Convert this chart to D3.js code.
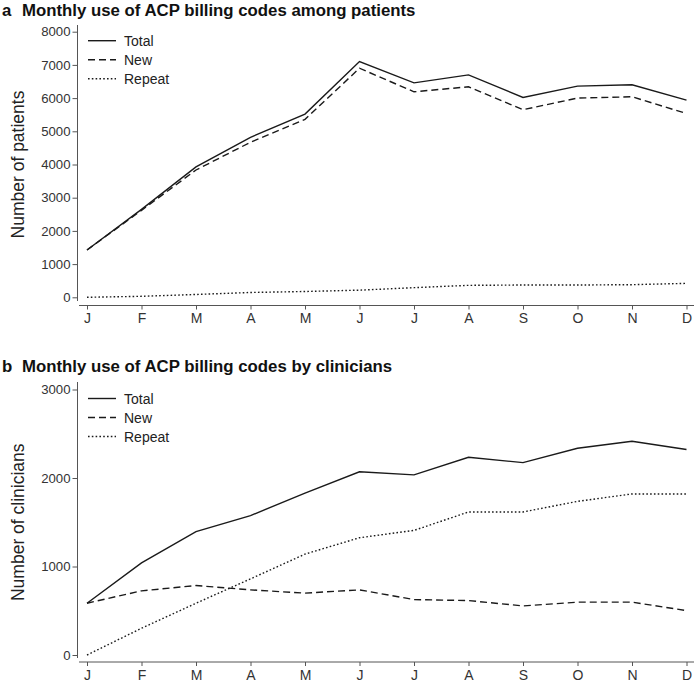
<!DOCTYPE html>
<html>
<head>
<meta charset="utf-8">
<script src="https://cdn.jsdelivr.net/npm/d3@7"></script>
<style>
  html, body { margin: 0; padding: 0; background: #fff; }
  svg { display: block; font-family: "Liberation Sans", Arial, Helvetica, sans-serif; }
</style>
</head>
<body>
<svg id="chart" width="697" height="682"></svg>
<script>
// ---- Data ----
const months = ["J", "F", "M", "A", "M", "J", "J", "A", "S", "O", "N", "D"];

const patientsTotal  = [1425, 2650, 3930, 4820, 5520, 7100, 6460, 6700, 6020, 6360, 6400, 5940];
const patientsNew    = [1425, 2620, 3835, 4670, 5360, 6900, 6190, 6340, 5650, 6000, 6040, 5535];
const patientsRepeat = [0, 30, 85, 145, 175, 215, 290, 360, 370, 370, 380, 420];
const patientsTicks  = [0, 1000, 2000, 3000, 4000, 5000, 6000, 7000, 8000];

const cliniciansTotal  = [585, 1040, 1395, 1575, 1830, 2070, 2035, 2234, 2174, 2336, 2416, 2322];
const cliniciansNew    = [585, 725, 785, 736, 699, 736, 626, 615, 555, 597, 597, 502];
const cliniciansRepeat = [0, 302, 585, 860, 1140, 1325, 1408, 1616, 1616, 1736, 1820, 1820];
const cliniciansTicks  = [0, 1000, 2000, 3000];

const seriesNames = ["Total", "New", "Repeat"];
const dashes = { "Total": null, "New": "7,4", "Repeat": "1.6,2.2" };

const panels = [
  { letter: "a", title: "Monthly use of ACP billing codes among patients",
    ytitle: "Number of patients", max: 8000, ticks: patientsTicks,
    series: { "Total": patientsTotal, "New": patientsNew, "Repeat": patientsRepeat },
    top: 31.7, bottom: 297.3, axisTop: 25, axisBottom: 301, xAxisY: 305.5, titleY: 16 },
  { letter: "b", title: "Monthly use of ACP billing codes by clinicians",
    ytitle: "Number of clinicians", max: 3000, ticks: cliniciansTicks,
    series: { "Total": cliniciansTotal, "New": cliniciansNew, "Repeat": cliniciansRepeat },
    top: 389.5, bottom: 655, axisTop: 382, axisBottom: 658, xAxisY: 662, titleY: 372 }
];

const svg = d3.select("#chart");
const x = d3.scaleLinear().domain([0, months.length - 1]).range([87, 686.5]);
const axisX = 77.5;
const axisColor = "#555";
const lineColor = "#1a1a1a";

panels.forEach(p => {
  const g = svg.append("g");
  const y = d3.scaleLinear().domain([0, p.max]).range([p.bottom, p.top]);

  // Title
  const t = g.append("text").attr("x", 2).attr("y", p.titleY)
    .attr("font-size", 16.8).attr("font-weight", "bold").attr("fill", "#111");
  t.append("tspan").text(p.letter);
  t.append("tspan").attr("x", 22).text(p.title);

  // Y axis
  const yAxis = d3.axisLeft(y).tickValues(p.ticks).tickSize(5).tickPadding(2)
    .tickFormat(d3.format("d"));
  const ya = g.append("g").attr("transform", `translate(${axisX},0)`).call(yAxis);
  ya.select(".domain").remove();
  ya.selectAll(".tick line").attr("stroke", axisColor);
  ya.selectAll(".tick text").attr("font-size", 13.2).attr("fill", "#333")
    .attr("font-family", "Liberation Sans, Arial, sans-serif");
  g.append("line").attr("x1", axisX).attr("x2", axisX)
    .attr("y1", p.axisTop).attr("y2", p.axisBottom)
    .attr("stroke", axisColor).attr("stroke-width", 1);

  // X axis
  const xAxis = d3.axisBottom(x).tickValues(d3.range(months.length)).tickSize(4).tickPadding(4)
    .tickFormat(i => months[i]);
  const xa = g.append("g").attr("transform", `translate(0,${p.xAxisY})`).call(xAxis);
  xa.select(".domain").remove();
  xa.selectAll(".tick line").attr("stroke", axisColor);
  xa.selectAll(".tick text").attr("font-size", 14).attr("fill", "#333")
    .attr("font-family", "Liberation Sans, Arial, sans-serif");
  g.append("line").attr("x1", 79).attr("x2", 694)
    .attr("y1", p.xAxisY).attr("y2", p.xAxisY)
    .attr("stroke", axisColor).attr("stroke-width", 1);

  // Y title
  g.append("text")
    .attr("transform", `translate(24,${(p.top + p.bottom) / 2}) rotate(-90)`)
    .attr("text-anchor", "middle").attr("font-size", 17.5).attr("fill", "#222")
    .text(p.ytitle);

  // Lines
  const line = d3.line().x((d, i) => x(i)).y(d => y(d));
  seriesNames.forEach(name => {
    g.append("path").datum(p.series[name])
      .attr("d", line).attr("fill", "none")
      .attr("stroke", lineColor).attr("stroke-width", 1.4)
      .attr("stroke-dasharray", dashes[name]);
  });

  // Legend
  seriesNames.forEach((name, i) => {
    const ly = p.top + 9 + i * 19;
    g.append("line").attr("x1", 88).attr("x2", 116).attr("y1", ly).attr("y2", ly)
      .attr("stroke", lineColor).attr("stroke-width", 1.4)
      .attr("stroke-dasharray", dashes[name]);
    g.append("text").attr("x", 124).attr("y", ly + 5)
      .attr("font-size", 14).attr("fill", "#222").text(name);
  });
});
</script>
</body>
</html>
